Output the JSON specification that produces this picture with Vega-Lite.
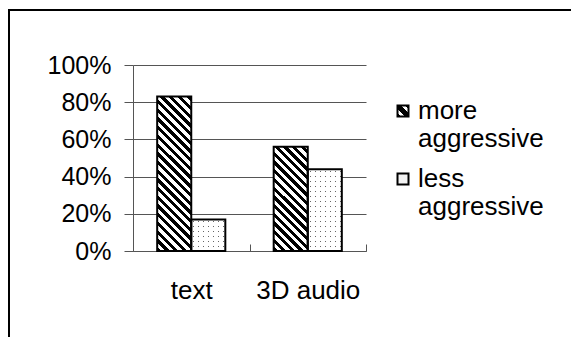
{
  "$schema": "https://vega.github.io/schema/vega-lite/v6.json",
  "width": 564,
  "height": 329,
  "autosize": {"type": "none"},
  "padding": {"left": 9, "top": 10, "right": -2, "bottom": -2},
  "background": "white",
  "config": {
    "font": "Liberation Sans",
    "view": {"stroke": "black", "strokeWidth": 2},
    "style": {"guide-label": {"lineHeight": 28}}
  },
  "data": {
    "values": [
      {"cat": "text", "type": "more aggressive", "share": 0.83},
      {"cat": "text", "type": "less aggressive", "share": 0.17},
      {"cat": "3D audio", "type": "more aggressive", "share": 0.56},
      {"cat": "3D audio", "type": "less aggressive", "share": 0.44}
    ]
  },
  "encoding": {
    "x": {
      "field": "cat",
      "type": "nominal",
      "sort": ["text", "3D audio"],
      "scale": {"range": [124, 357], "paddingInner": 0, "paddingOuter": 0},
      "axis": {
        "title": null,
        "orient": "bottom",
        "offset": -88,
        "grid": false,
        "domainColor": "#555",
        "tickColor": "#555",
        "tickSize": -7,
        "tickBand": "extent",
        "labelAngle": 0,
        "labelFontSize": 26,
        "labelColor": "black",
        "labelPadding": 33
      }
    },
    "xOffset": {
      "field": "type",
      "sort": ["more aggressive", "less aggressive"],
      "scale": {"paddingInner": 0, "paddingOuter": 0.71}
    },
    "y": {
      "field": "share",
      "type": "quantitative",
      "scale": {"domain": [0, 1], "range": [241, 55], "nice": false},
      "axis": {
        "title": null,
        "offset": -124,
        "values": [0, 0.2, 0.4, 0.6, 0.8, 1],
        "format": ".0%",
        "grid": true,
        "gridColor": "#555",
        "domainColor": "#555",
        "tickColor": "#555",
        "tickSize": 9,
        "labelPadding": 13,
        "labelFontSize": 25,
        "labelColor": "black"
      }
    }
  },
  "layer": [
    {
      "mark": {"type": "bar", "strokeWidth": 0},
      "encoding": {
        "fill": {
          "field": "type",
          "type": "nominal",
          "condition": [
            {
              "test": "datum.type === 'more aggressive' && datum.cat === 'text'",
              "value": {
                "gradient": "linear", "x1": 0, "y1": 1, "x2": 0.2563, "y2": -0.1638,
                "stops": [
                  {"offset": 0, "color": "#000"},
                  {"offset": 0.0231, "color": "#000"}, {"offset": 0.0231, "color": "#fff"},
                  {"offset": 0.0462, "color": "#fff"}, {"offset": 0.0462, "color": "#000"},
                  {"offset": 0.0693, "color": "#000"}, {"offset": 0.0693, "color": "#fff"},
                  {"offset": 0.0924, "color": "#fff"}, {"offset": 0.0924, "color": "#000"},
                  {"offset": 0.1155, "color": "#000"}, {"offset": 0.1155, "color": "#fff"},
                  {"offset": 0.1386, "color": "#fff"}, {"offset": 0.1386, "color": "#000"},
                  {"offset": 0.1617, "color": "#000"}, {"offset": 0.1617, "color": "#fff"},
                  {"offset": 0.1848, "color": "#fff"}, {"offset": 0.1848, "color": "#000"},
                  {"offset": 0.2079, "color": "#000"}, {"offset": 0.2079, "color": "#fff"},
                  {"offset": 0.231, "color": "#fff"}, {"offset": 0.231, "color": "#000"},
                  {"offset": 0.2541, "color": "#000"}, {"offset": 0.2541, "color": "#fff"},
                  {"offset": 0.2772, "color": "#fff"}, {"offset": 0.2772, "color": "#000"},
                  {"offset": 0.3003, "color": "#000"}, {"offset": 0.3003, "color": "#fff"},
                  {"offset": 0.3234, "color": "#fff"}, {"offset": 0.3234, "color": "#000"},
                  {"offset": 0.3465, "color": "#000"}, {"offset": 0.3465, "color": "#fff"},
                  {"offset": 0.3696, "color": "#fff"}, {"offset": 0.3696, "color": "#000"},
                  {"offset": 0.3927, "color": "#000"}, {"offset": 0.3927, "color": "#fff"},
                  {"offset": 0.4158, "color": "#fff"}, {"offset": 0.4158, "color": "#000"},
                  {"offset": 0.4389, "color": "#000"}, {"offset": 0.4389, "color": "#fff"},
                  {"offset": 0.462, "color": "#fff"}, {"offset": 0.462, "color": "#000"},
                  {"offset": 0.4851, "color": "#000"}, {"offset": 0.4851, "color": "#fff"},
                  {"offset": 0.5082, "color": "#fff"}, {"offset": 0.5082, "color": "#000"},
                  {"offset": 0.5313, "color": "#000"}, {"offset": 0.5313, "color": "#fff"},
                  {"offset": 0.5544, "color": "#fff"}, {"offset": 0.5544, "color": "#000"},
                  {"offset": 0.5775, "color": "#000"}, {"offset": 0.5775, "color": "#fff"},
                  {"offset": 0.6006, "color": "#fff"}, {"offset": 0.6006, "color": "#000"},
                  {"offset": 0.6237, "color": "#000"}, {"offset": 0.6237, "color": "#fff"},
                  {"offset": 0.6468, "color": "#fff"}, {"offset": 0.6468, "color": "#000"},
                  {"offset": 0.6699, "color": "#000"}, {"offset": 0.6699, "color": "#fff"},
                  {"offset": 0.693, "color": "#fff"}, {"offset": 0.693, "color": "#000"},
                  {"offset": 0.7161, "color": "#000"}, {"offset": 0.7161, "color": "#fff"},
                  {"offset": 0.7392, "color": "#fff"}, {"offset": 0.7392, "color": "#000"},
                  {"offset": 0.7623, "color": "#000"}, {"offset": 0.7623, "color": "#fff"},
                  {"offset": 0.7854, "color": "#fff"}, {"offset": 0.7854, "color": "#000"},
                  {"offset": 0.8085, "color": "#000"}, {"offset": 0.8085, "color": "#fff"},
                  {"offset": 0.8316, "color": "#fff"}, {"offset": 0.8316, "color": "#000"},
                  {"offset": 0.8547, "color": "#000"}, {"offset": 0.8547, "color": "#fff"},
                  {"offset": 0.8778, "color": "#fff"}, {"offset": 0.8778, "color": "#000"},
                  {"offset": 0.9009, "color": "#000"}, {"offset": 0.9009, "color": "#fff"},
                  {"offset": 0.924, "color": "#fff"}, {"offset": 0.924, "color": "#000"},
                  {"offset": 0.9471, "color": "#000"}, {"offset": 0.9471, "color": "#fff"},
                  {"offset": 0.9702, "color": "#fff"}, {"offset": 0.9702, "color": "#000"},
                  {"offset": 0.9933, "color": "#000"}, {"offset": 0.9933, "color": "#fff"},
                  {"offset": 1, "color": "#fff"}
                ]
              }
            },
            {
              "test": "datum.type === 'more aggressive'",
              "value": {
                "gradient": "linear", "x1": 0, "y1": 1, "x2": 0.3912, "y2": -0.199,
                "stops": [
                  {"offset": 0, "color": "#000"},
                  {"offset": 0.0315, "color": "#000"}, {"offset": 0.0315, "color": "#fff"},
                  {"offset": 0.063, "color": "#fff"}, {"offset": 0.063, "color": "#000"},
                  {"offset": 0.0945, "color": "#000"}, {"offset": 0.0945, "color": "#fff"},
                  {"offset": 0.126, "color": "#fff"}, {"offset": 0.126, "color": "#000"},
                  {"offset": 0.1575, "color": "#000"}, {"offset": 0.1575, "color": "#fff"},
                  {"offset": 0.189, "color": "#fff"}, {"offset": 0.189, "color": "#000"},
                  {"offset": 0.2205, "color": "#000"}, {"offset": 0.2205, "color": "#fff"},
                  {"offset": 0.252, "color": "#fff"}, {"offset": 0.252, "color": "#000"},
                  {"offset": 0.2835, "color": "#000"}, {"offset": 0.2835, "color": "#fff"},
                  {"offset": 0.315, "color": "#fff"}, {"offset": 0.315, "color": "#000"},
                  {"offset": 0.3465, "color": "#000"}, {"offset": 0.3465, "color": "#fff"},
                  {"offset": 0.378, "color": "#fff"}, {"offset": 0.378, "color": "#000"},
                  {"offset": 0.4095, "color": "#000"}, {"offset": 0.4095, "color": "#fff"},
                  {"offset": 0.441, "color": "#fff"}, {"offset": 0.441, "color": "#000"},
                  {"offset": 0.4725, "color": "#000"}, {"offset": 0.4725, "color": "#fff"},
                  {"offset": 0.504, "color": "#fff"}, {"offset": 0.504, "color": "#000"},
                  {"offset": 0.5355, "color": "#000"}, {"offset": 0.5355, "color": "#fff"},
                  {"offset": 0.567, "color": "#fff"}, {"offset": 0.567, "color": "#000"},
                  {"offset": 0.5985, "color": "#000"}, {"offset": 0.5985, "color": "#fff"},
                  {"offset": 0.63, "color": "#fff"}, {"offset": 0.63, "color": "#000"},
                  {"offset": 0.6615, "color": "#000"}, {"offset": 0.6615, "color": "#fff"},
                  {"offset": 0.693, "color": "#fff"}, {"offset": 0.693, "color": "#000"},
                  {"offset": 0.7245, "color": "#000"}, {"offset": 0.7245, "color": "#fff"},
                  {"offset": 0.756, "color": "#fff"}, {"offset": 0.756, "color": "#000"},
                  {"offset": 0.7875, "color": "#000"}, {"offset": 0.7875, "color": "#fff"},
                  {"offset": 0.819, "color": "#fff"}, {"offset": 0.819, "color": "#000"},
                  {"offset": 0.8505, "color": "#000"}, {"offset": 0.8505, "color": "#fff"},
                  {"offset": 0.882, "color": "#fff"}, {"offset": 0.882, "color": "#000"},
                  {"offset": 0.9135, "color": "#000"}, {"offset": 0.9135, "color": "#fff"},
                  {"offset": 0.945, "color": "#fff"}, {"offset": 0.945, "color": "#000"},
                  {"offset": 0.9765, "color": "#000"}, {"offset": 0.9765, "color": "#fff"},
                  {"offset": 1, "color": "#fff"}
                ]
              }
            },
            {
              "test": "datum.cat === 'text'",
              "value": {
                "gradient": "linear", "x1": 0, "y1": 0, "x2": 0, "y2": 1,
                "stops": [
                  {"offset": 0, "color": "#fff"},
                  {"offset": 0.0633, "color": "#fff"}, {"offset": 0.0633, "color": "#666"},
                  {"offset": 0.0949, "color": "#666"}, {"offset": 0.0949, "color": "#fff"},
                  {"offset": 0.2215, "color": "#fff"}, {"offset": 0.2215, "color": "#666"},
                  {"offset": 0.2532, "color": "#666"}, {"offset": 0.2532, "color": "#fff"},
                  {"offset": 0.3797, "color": "#fff"}, {"offset": 0.3797, "color": "#666"},
                  {"offset": 0.4114, "color": "#666"}, {"offset": 0.4114, "color": "#fff"},
                  {"offset": 0.538, "color": "#fff"}, {"offset": 0.538, "color": "#666"},
                  {"offset": 0.5696, "color": "#666"}, {"offset": 0.5696, "color": "#fff"},
                  {"offset": 0.6962, "color": "#fff"}, {"offset": 0.6962, "color": "#666"},
                  {"offset": 0.7278, "color": "#666"}, {"offset": 0.7278, "color": "#fff"},
                  {"offset": 0.8544, "color": "#fff"}, {"offset": 0.8544, "color": "#666"},
                  {"offset": 0.8861, "color": "#666"}, {"offset": 0.8861, "color": "#fff"},
                  {"offset": 1, "color": "#fff"}
                ]
              }
            },
            {
              "test": "datum.cat === '3D audio'",
              "value": {
                "gradient": "linear", "x1": 0, "y1": 0, "x2": 0, "y2": 1,
                "stops": [
                  {"offset": 0, "color": "#fff"},
                  {"offset": 0.0245, "color": "#fff"}, {"offset": 0.0245, "color": "#666"},
                  {"offset": 0.0367, "color": "#666"}, {"offset": 0.0367, "color": "#fff"},
                  {"offset": 0.0856, "color": "#fff"}, {"offset": 0.0856, "color": "#666"},
                  {"offset": 0.0978, "color": "#666"}, {"offset": 0.0978, "color": "#fff"},
                  {"offset": 0.1467, "color": "#fff"}, {"offset": 0.1467, "color": "#666"},
                  {"offset": 0.1589, "color": "#666"}, {"offset": 0.1589, "color": "#fff"},
                  {"offset": 0.2078, "color": "#fff"}, {"offset": 0.2078, "color": "#666"},
                  {"offset": 0.2201, "color": "#666"}, {"offset": 0.2201, "color": "#fff"},
                  {"offset": 0.269, "color": "#fff"}, {"offset": 0.269, "color": "#666"},
                  {"offset": 0.2812, "color": "#666"}, {"offset": 0.2812, "color": "#fff"},
                  {"offset": 0.3301, "color": "#fff"}, {"offset": 0.3301, "color": "#666"},
                  {"offset": 0.3423, "color": "#666"}, {"offset": 0.3423, "color": "#fff"},
                  {"offset": 0.3912, "color": "#fff"}, {"offset": 0.3912, "color": "#666"},
                  {"offset": 0.4034, "color": "#666"}, {"offset": 0.4034, "color": "#fff"},
                  {"offset": 0.4523, "color": "#fff"}, {"offset": 0.4523, "color": "#666"},
                  {"offset": 0.4645, "color": "#666"}, {"offset": 0.4645, "color": "#fff"},
                  {"offset": 0.5135, "color": "#fff"}, {"offset": 0.5135, "color": "#666"},
                  {"offset": 0.5257, "color": "#666"}, {"offset": 0.5257, "color": "#fff"},
                  {"offset": 0.5746, "color": "#fff"}, {"offset": 0.5746, "color": "#666"},
                  {"offset": 0.5868, "color": "#666"}, {"offset": 0.5868, "color": "#fff"},
                  {"offset": 0.6357, "color": "#fff"}, {"offset": 0.6357, "color": "#666"},
                  {"offset": 0.6479, "color": "#666"}, {"offset": 0.6479, "color": "#fff"},
                  {"offset": 0.6968, "color": "#fff"}, {"offset": 0.6968, "color": "#666"},
                  {"offset": 0.709, "color": "#666"}, {"offset": 0.709, "color": "#fff"},
                  {"offset": 0.758, "color": "#fff"}, {"offset": 0.758, "color": "#666"},
                  {"offset": 0.7702, "color": "#666"}, {"offset": 0.7702, "color": "#fff"},
                  {"offset": 0.8191, "color": "#fff"}, {"offset": 0.8191, "color": "#666"},
                  {"offset": 0.8313, "color": "#666"}, {"offset": 0.8313, "color": "#fff"},
                  {"offset": 0.8802, "color": "#fff"}, {"offset": 0.8802, "color": "#666"},
                  {"offset": 0.8924, "color": "#666"}, {"offset": 0.8924, "color": "#fff"},
                  {"offset": 0.9413, "color": "#fff"}, {"offset": 0.9413, "color": "#666"},
                  {"offset": 0.9535, "color": "#666"}, {"offset": 0.9535, "color": "#fff"},
                  {"offset": 1, "color": "#fff"}
                ]
              }
            }
          ],
          "scale": {
            "domain": ["more aggressive", "less aggressive"],
            "range": [
              {"expr": "{gradient: 'linear', x1: 0, y1: 1, x2: 1, y2: 0, stops: [{offset: 0, color: '#000'}, {offset: 0.15, color: '#000'}, {offset: 0.15, color: '#fff'}, {offset: 0.35, color: '#fff'}, {offset: 0.35, color: '#000'}, {offset: 0.65, color: '#000'}, {offset: 0.65, color: '#fff'}, {offset: 0.85, color: '#fff'}, {offset: 0.85, color: '#000'}, {offset: 1, color: '#000'}]}"},
              "#f3f3f3"
            ]
          },
          "legend": {
            "title": null,
            "orient": "none",
            "legendX": 381,
            "legendY": 88,
            "padding": 0,
            "labelExpr": "split(datum.label, ' ')",
            "symbolType": "square",
            "symbolSize": 121,
            "symbolStrokeColor": "black",
            "symbolStrokeWidth": 2,
            "labelFontSize": 26,
            "labelColor": "black",
            "labelOffset": 2,
            "labelLimit": 300,
            "rowPadding": 14
          }
        }
      }
    },
    {
      "transform": [{"filter": "datum.type === 'less aggressive'"}],
      "mark": {"type": "bar", "strokeWidth": 0},
      "encoding": {
        "fill": {
          "value": {
            "gradient": "linear", "x1": 0, "y1": 0, "x2": 1, "y2": 0,
            "stops": [
              {"offset": 0, "color": "#fff"},
              {"offset": 0.0588, "color": "#fff"}, {"offset": 0.0588, "color": "rgba(255,255,255,0)"},
              {"offset": 0.0882, "color": "rgba(255,255,255,0)"}, {"offset": 0.0882, "color": "#fff"},
              {"offset": 0.2059, "color": "#fff"}, {"offset": 0.2059, "color": "rgba(255,255,255,0)"},
              {"offset": 0.2353, "color": "rgba(255,255,255,0)"}, {"offset": 0.2353, "color": "#fff"},
              {"offset": 0.3529, "color": "#fff"}, {"offset": 0.3529, "color": "rgba(255,255,255,0)"},
              {"offset": 0.3824, "color": "rgba(255,255,255,0)"}, {"offset": 0.3824, "color": "#fff"},
              {"offset": 0.5, "color": "#fff"}, {"offset": 0.5, "color": "rgba(255,255,255,0)"},
              {"offset": 0.5294, "color": "rgba(255,255,255,0)"}, {"offset": 0.5294, "color": "#fff"},
              {"offset": 0.6471, "color": "#fff"}, {"offset": 0.6471, "color": "rgba(255,255,255,0)"},
              {"offset": 0.6765, "color": "rgba(255,255,255,0)"}, {"offset": 0.6765, "color": "#fff"},
              {"offset": 0.7941, "color": "#fff"}, {"offset": 0.7941, "color": "rgba(255,255,255,0)"},
              {"offset": 0.8235, "color": "rgba(255,255,255,0)"}, {"offset": 0.8235, "color": "#fff"},
              {"offset": 0.9412, "color": "#fff"}, {"offset": 0.9412, "color": "rgba(255,255,255,0)"},
              {"offset": 0.9706, "color": "rgba(255,255,255,0)"}, {"offset": 0.9706, "color": "#fff"},
              {"offset": 1, "color": "#fff"}
            ]
          }
        }
      }
    },
    {
      "mark": {"type": "bar", "fillOpacity": 0, "stroke": "black", "strokeWidth": 2}
    }
  ]
}
